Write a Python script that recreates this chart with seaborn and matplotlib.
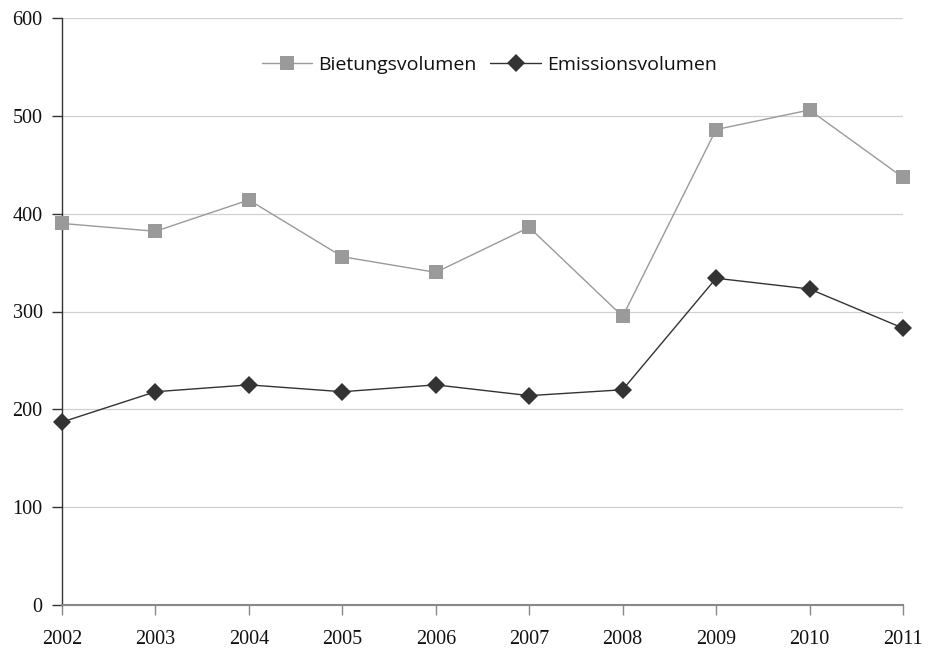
import matplotlib
matplotlib.use("Agg")
import matplotlib.pyplot as plt
import seaborn as sns
import pandas as pd

years = [2002, 2003, 2004, 2005, 2006, 2007, 2008, 2009, 2010, 2011]
bietungsvolumen = [390, 382, 414, 356, 340, 386, 295, 486, 506, 437]
emissionsvolumen = [187, 218, 225, 218, 225, 214, 220, 334, 323, 283]
y_ticks = [0, 100, 200, 300, 400, 500, 600]

df = pd.DataFrame({
    "Jahr": years * 2,
    "Volumen": bietungsvolumen + emissionsvolumen,
    "Reihe": ["Bietungsvolumen"] * len(years) + ["Emissionsvolumen"] * len(years),
})

sns.set_theme(style="white")
plt.rcParams["font.family"] = ["Liberation Serif", "DejaVu Serif"]

fig = plt.figure(figsize=(9.34, 6.5), dpi=100)
ax = fig.add_axes([62 / 934, 45 / 650, 841 / 934, 587 / 650])

palette = {"Bietungsvolumen": "#9a9a9a", "Emissionsvolumen": "#333333"}
markers = {"Bietungsvolumen": "s", "Emissionsvolumen": "D"}

sns.lineplot(data=df, x="Jahr", y="Volumen", hue="Reihe", style="Reihe",
             palette=palette, markers=markers, dashes=False, linewidth=1.0,
             markersize=9.5, markeredgewidth=0, ax=ax)
for line in ax.lines:
    line.set_clip_on(False)
    line.set_zorder(3)

ax.set_xlim(2002, 2011)
ax.set_ylim(0, 600)
ax.set_xticks(years)
ax.set_xticklabels([str(y) for y in years])
ax.set_yticks(y_ticks)
ax.set_xlabel("")
ax.set_ylabel("")
ax.yaxis.grid(True, color="#d0d0d0", linewidth=0.9)
ax.set_axisbelow(True)

for side in ("top", "right"):
    ax.spines[side].set_visible(False)
ax.spines["left"].set_color("#333333")
ax.spines["left"].set_linewidth(1.0)
ax.spines["bottom"].set_color("#888888")
ax.spines["bottom"].set_linewidth(1.5)

ax.tick_params(axis="y", which="both", left=True, length=7, width=1.0,
               color="#333333", labelsize=14.5, pad=7, labelcolor="#111111")
ax.tick_params(axis="x", which="both", bottom=True, length=7, width=1.0,
               color="#888888", labelsize=14.5, pad=11, labelcolor="#111111")

# Legend across the top, sans-serif
handles, labels = ax.get_legend_handles_labels()
leg = ax.legend(handles, labels, loc="upper center", bbox_to_anchor=(0.508, 0.965),
                ncol=2, frameon=False, handlelength=2.6, columnspacing=0.7,
                handletextpad=0.3, prop={"family": "Open Sans", "size": 14})
for t in leg.get_texts():
    t.set_color("#111111")

fig.savefig("out.png", dpi=100, facecolor="white")
